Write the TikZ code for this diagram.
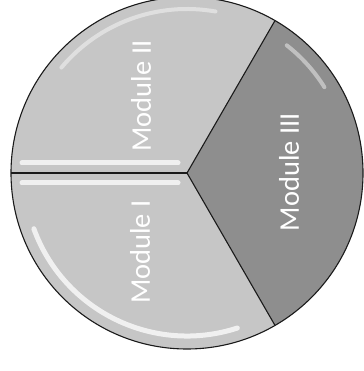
\documentclass[tikz,border=0pt]{standalone}
\usepackage{fontspec}
\setmainfont{Carlito}
\usepackage{tikz}
\usetikzlibrary{calc}
\definecolor{lightslice}{HTML}{C6C6C6}
\definecolor{darkslice} {HTML}{8E8E8E}
\definecolor{rimink}    {HTML}{1A1A1A}
\tikzset{
  slice/.style    ={draw=rimink, line width=1.1pt, line join=round},
  gloss/.style    ={draw=white, line width=5pt, line cap=round, opacity=0.75},
  softgloss/.style={draw=white, line width=4pt, line cap=round, opacity=0.45},
  modlabel/.style ={text=white, rotate=90, font=\fontsize{28.5}{30}\selectfont},
}
\begin{document}
\begin{tikzpicture}[x=1pt,y=1pt]
    \useasboundingbox (0,0) rectangle (363,371);
    \coordinate (c) at (187,198);
    \def\rad{176}

    % the three slices
    \fill[lightslice] (c) -- ++(60:\rad) arc[start angle=60, end angle=180, radius=\rad] -- cycle;
    \fill[lightslice] (c) -- ++(180:\rad) arc[start angle=180, end angle=300, radius=\rad] -- cycle;
    \fill[darkslice]  (c) -- ++(300:\rad) arc[start angle=-60, end angle=60, radius=\rad] -- cycle;

    % gloss strips
    \draw[gloss] ($(c)+(-165,10)$) -- ($(c)+(-9,10)$);
    \draw[gloss] ($(c)+(-165,-10)$) -- ($(c)+(-9,-10)$);
    \draw[gloss] ($(c)+(200:163)$) arc[start angle=200, end angle=288, radius=163];
    \draw[softgloss] ($(c)+(80:164)$) arc[start angle=80, end angle=140, radius=164];
    \draw[softgloss] ($(c)+(52:162)$) arc[start angle=52, end angle=32, radius=162];

    % outlines
    \draw[slice] (c) circle[radius=\rad];
    \draw[slice] (c) -- ++(180:\rad);
    \draw[slice] (c) -- ++(60:\rad);
    \draw[slice] (c) -- ++(300:\rad);

    \node[modlabel] (m1) at ($(c)+(-47,-79)$) {Module I};
    \node[modlabel] (m2) at ($(c)+(-46,77)$)  {Module II};
    \node[modlabel] (m3) at ($(c)+(102,1)$)   {Module III};
\end{tikzpicture}
\end{document}
